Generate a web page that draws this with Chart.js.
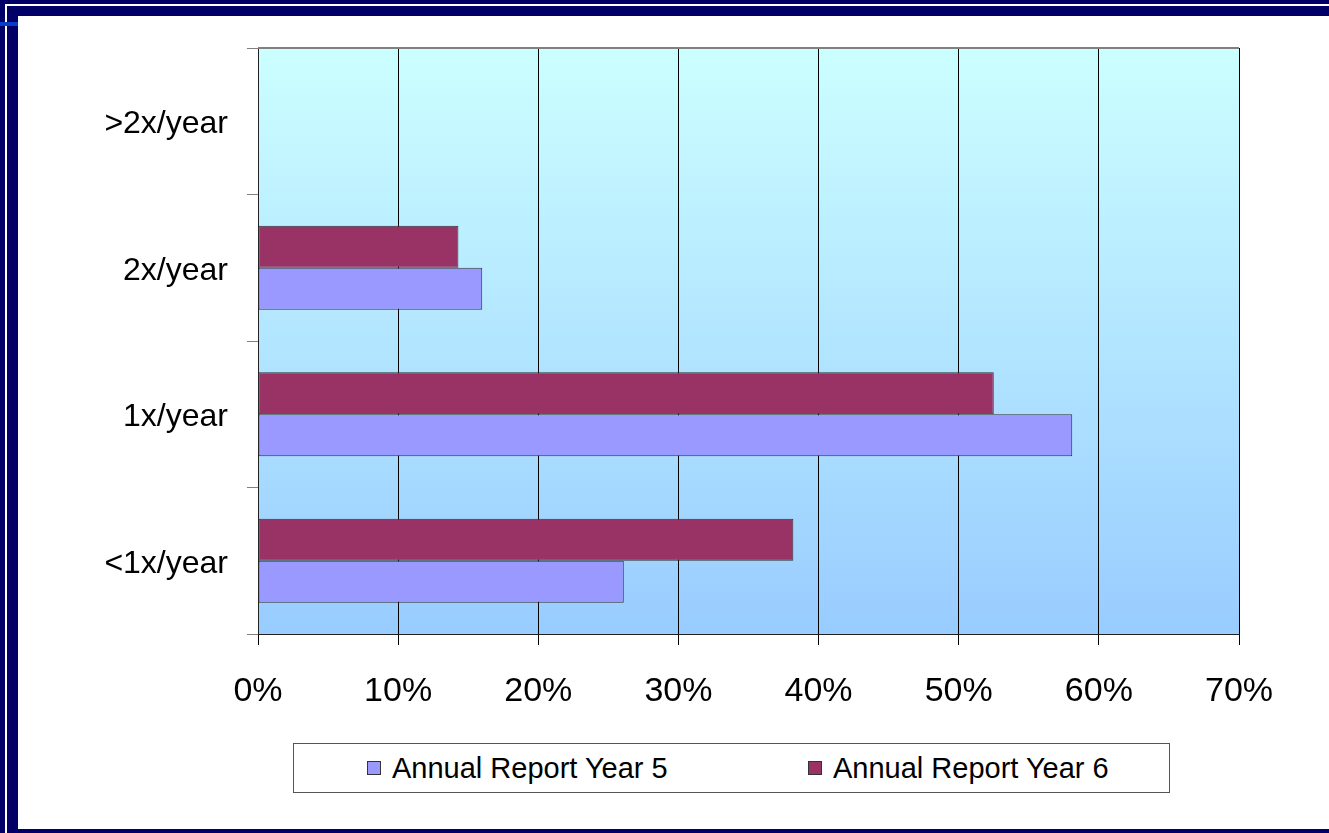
<!DOCTYPE html>
<html>
<head>
<meta charset="utf-8">
<script src="https://cdn.jsdelivr.net/npm/chart.js@4/dist/chart.umd.min.js"></script>
<style>
  html, body { margin: 0; padding: 0; }
  body { width: 1329px; height: 833px; background: #000066; position: relative; overflow: hidden; font-family: "Liberation Sans", Arial, sans-serif; }
  #wline { position: absolute; left: 5px; top: 4px; width: 1400px; height: 900px; border-left: 2px solid #ffffff; border-top: 2px solid #ffffff; box-sizing: border-box; }
  #stripe { position: absolute; left: 0; top: 22px; width: 18px; height: 4px; background: #0a3ccc; }
  #panel { position: absolute; left: 18px; top: 16px; width: 1311px; height: 813px; background: #ffffff; }
  #c { position: absolute; left: 0; top: 0; }
  #legend { position: absolute; left: 293px; top: 743px; width: 877px; height: 50px; border: 1px solid #555; box-sizing: border-box; background: #fff; }
  .item { position: absolute; top: 0; height: 48px; display: flex; align-items: center; font-size: 29px; color: #000; white-space: nowrap; }
  .sw { width: 14px; height: 14px; border: 1px solid #333; box-sizing: border-box; margin-right: 11px; }
</style>
</head>
<body>
<div id="wline"></div>
<div id="stripe"></div>
<div id="panel"></div>
<canvas id="c" width="1329" height="833"></canvas>
<div id="legend"></div>
<script>
// ---- data ----
const categories = ['>2x/year', '2x/year', '1x/year', '<1x/year'];
const year5Values = [null, 16.0, 58.1, 26.1];
const year6Values = [null, 14.3, 52.5, 38.2];
const xTickValues = [0, 10, 20, 30, 40, 50, 60, 70];
const seriesNames = ['Annual Report Year 5', 'Annual Report Year 6'];
const seriesColors = ['#9999FF', '#993366'];

// ---- legend (HTML) ----
const legendEl = document.getElementById('legend');
const legendX = [73, 514];
seriesNames.forEach((n, i) => {
  const d = document.createElement('div');
  d.className = 'item';
  d.style.left = legendX[i] + 'px';
  d.innerHTML = '<div class="sw" style="background:' + seriesColors[i] + '"></div><span>' + n + '</span>';
  legendEl.appendChild(d);
});

const bgPlugin = {
  id: 'bg',
  beforeDraw(chart) {
    const { ctx, chartArea: a } = chart;
    const g = ctx.createLinearGradient(0, a.top, 0, a.bottom);
    g.addColorStop(0, '#CCFFFF');
    g.addColorStop(1, '#99CCFF');
    ctx.save();
    ctx.fillStyle = g;
    ctx.fillRect(a.left, a.top, a.right - a.left, a.bottom - a.top);
    ctx.restore();
  },
  afterDraw(chart) {
    const { ctx, chartArea: a } = chart;
    ctx.save();
    ctx.strokeStyle = '#808080';
    ctx.lineWidth = 2;
    ctx.beginPath();
    ctx.moveTo(a.left, a.top);
    ctx.lineTo(a.right, a.top);
    ctx.stroke();
    ctx.restore();
  }
};

new Chart(document.getElementById('c'), {
  type: 'bar',
  data: {
    labels: categories,
    datasets: [
      { label: seriesNames[1], data: year6Values, backgroundColor: seriesColors[1], borderColor: '#333333', borderWidth: 1, borderSkipped: false },
      { label: seriesNames[0], data: year5Values, backgroundColor: seriesColors[0], borderColor: '#333333', borderWidth: 1, borderSkipped: false }
    ]
  },
  plugins: [bgPlugin],
  options: {
    indexAxis: 'y',
    responsive: false,
    devicePixelRatio: 1,
    animation: false,
    layout: { padding: { left: 0, top: 48, right: 90, bottom: 99 } },
    datasets: { bar: { categoryPercentage: 0.573, barPercentage: 1.0 } },
    plugins: { legend: { display: false }, tooltip: { enabled: false } },
    scales: {
      x: {
        min: 0, max: 70,
        afterBuildTicks(scale) { scale.ticks = xTickValues.map(v => ({ value: v })); },
        afterFit(scale) { scale.height = 100; },
        grid: { color: '#000000', lineWidth: 1, tickLength: 11, tickColor: '#000000', drawTicks: true },
        border: { color: '#222222', width: 1 },
        ticks: { callback: v => v + '%', color: '#000', font: { family: '"Liberation Sans", Arial, sans-serif', size: 34 }, padding: 26, maxRotation: 0, autoSkip: false }
      },
      y: {
        afterFit(scale) { scale.width = 258; },
        grid: { drawOnChartArea: false, tickLength: 11, tickColor: '#808080', offset: true },
        border: { color: '#222222', width: 1 },
        ticks: { color: '#000', font: { family: '"Liberation Sans", Arial, sans-serif', size: 32 }, padding: 19, labelOffset: 3 }
      }
    }
  }
});
</script>
</body>
</html>
